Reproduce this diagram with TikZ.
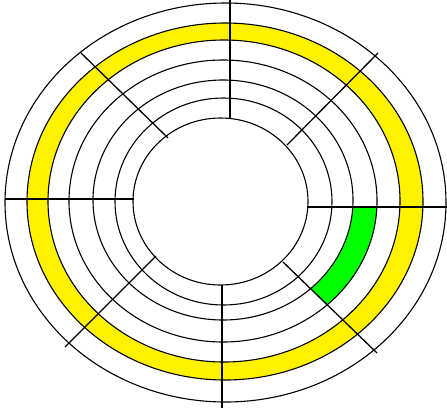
\documentclass[tikz,border=0pt]{standalone}
\begin{document}
\begin{tikzpicture}[x=1pt,y=-1pt,
  track/.style={draw=black,line width=1.1pt},
  spoke/.style={draw=black,line width=1.3pt}]
\useasboundingbox (0,0) rectangle (447,408);
\fill[white] (0,0) rectangle (447,408);
% yellow cylinder track
\fill[yellow,even odd rule] (225,201.5) ellipse[x radius=198,y radius=178.5]
  (224,201) ellipse[x radius=176,y radius=161];
% green sector
\begin{scope}
  \clip (240,207) -- (460,207) -- (460,433) -- (240,220.5) -- cycle;
  \fill[green,even odd rule] (223,201) ellipse[x radius=154,y radius=141]
    (223,200) ellipse[x radius=130,y radius=120];
\end{scope}
% tracks
\draw[track] (225.5,202.5) ellipse[x radius=220.5,y radius=199.5];
\draw[track] (225,201.5) ellipse[x radius=198,y radius=178.5];
\draw[track] (224,201) ellipse[x radius=176,y radius=161];
\draw[track] (223,201) ellipse[x radius=154,y radius=141];
\draw[track] (223,200) ellipse[x radius=130,y radius=120];
\draw[track] (223.5,201.5) ellipse[x radius=108.5,y radius=103.5];
\draw[track] (220.5,201.5) ellipse[x radius=87.5,y radius=83.5];
% sector lines
\draw[spoke] (230,0) -- (230,118);
\draw[spoke] (222,285) -- (222,408);
\draw[spoke] (5,199) -- (134,199);
\draw[spoke] (307,207) -- (447,207);
\draw[spoke] (80,52) -- (168,138);
\draw[spoke] (378,53) -- (287,145);
\draw[spoke] (65,347) -- (156,256);
\draw[spoke] (283,262) -- (377,353);
\end{tikzpicture}
\end{document}
